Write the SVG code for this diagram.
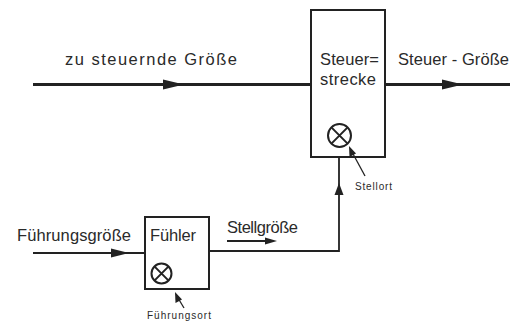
<svg xmlns="http://www.w3.org/2000/svg" width="510" height="322" viewBox="0 0 510 322">
<style>
.t{font-family:"Liberation Sans","DejaVu Sans",sans-serif;fill:#2a2a2a}
.big{font-size:16.5px}
.small{font-size:10px}
.box{fill:none;stroke:#222;stroke-width:2}
.main{fill:none;stroke:#222;stroke-width:3}
.sig{fill:none;stroke:#222;stroke-width:1.8}
.thin{fill:none;stroke:#222;stroke-width:1.3}
.head{fill:#222}
</style>
<rect width="510" height="322" fill="#fff"/>
<g id="connectors">
  <line class="main" x1="33" y1="84.5" x2="311" y2="84.5"/>
  <polygon class="head" points="184,84.5 163,79.5 163,89.5"/>
  <line class="main" x1="385" y1="84.5" x2="510" y2="84.5"/>
  <polygon class="head" points="463,84.5 442,79.5 442,89.5"/>
  <line class="sig" x1="33" y1="253" x2="145" y2="253"/>
  <polygon class="head" points="129,253 111,248.5 111,257.5"/>
  <polyline class="sig" points="209,251 339,251 339,157"/>
  <polygon class="head" points="339,183 334.5,195 343.5,195"/>
  <line class="sig" x1="227" y1="241" x2="270" y2="241"/>
  <polygon class="head" points="277,241 265,237.5 265,244.5"/>
  <line class="thin" x1="365" y1="176" x2="352" y2="152"/>
  <polygon class="head" points="349,146 349.5,157 356,153.5"/>
  <line class="thin" x1="184" y1="308" x2="178" y2="298"/>
  <polygon class="head" points="175,292 175.5,303 182,299.5"/>
</g>
<g id="label-zu-steuernde">
  <text class="t big" x="65" y="65" textLength="172">zu steuernde Größe</text>
</g>
<g id="steuerstrecke">
  <rect class="box" x="311" y="10" width="74" height="147"/>
  <text class="t big" x="320" y="65" textLength="59">Steuer=</text>
  <text class="t big" x="320" y="85" textLength="56">strecke</text>
  <circle class="box" cx="339.5" cy="135.5" r="11.5"/>
  <path class="box" d="M331.4,127.4 L347.6,143.6 M347.6,127.4 L331.4,143.6"/>
</g>
<g id="label-steuer-groesse">
  <text class="t big" x="398" y="65" textLength="111">Steuer - Größe</text>
</g>
<g id="label-stellort">
  <text class="t small" x="355" y="190" textLength="37">Stellort</text>
</g>
<g id="label-fuehrungsgroesse">
  <text class="t big" x="17" y="241" textLength="114">Führungsgröße</text>
</g>
<g id="fuehler">
  <rect class="box" x="145" y="217" width="64" height="72"/>
  <text class="t big" x="150" y="241" textLength="46">Fühler</text>
  <circle class="box" cx="161.5" cy="273.5" r="10"/>
  <path class="box" d="M154.4,266.4 L168.6,280.6 M168.6,266.4 L154.4,280.6"/>
</g>
<g id="label-stellgroesse">
  <text class="t big" x="227" y="233" textLength="71">Stellgröße</text>
</g>
<g id="label-fuehrungsort">
  <text class="t small" x="147" y="319" textLength="64">Führungsort</text>
</g>
</svg>
